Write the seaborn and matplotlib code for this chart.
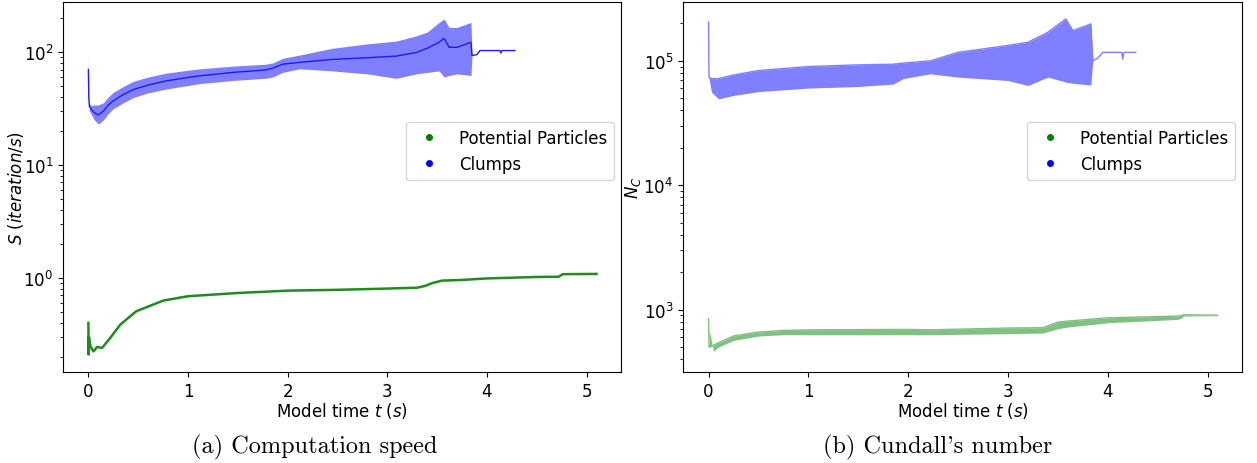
import numpy as np
import pandas as pd
import matplotlib
matplotlib.use("Agg")
import matplotlib.pyplot as plt
from matplotlib.lines import Line2D
import seaborn as sns

# ---------------- data ----------------
# (a) computation speed S, Clumps: time, lower, median, upper
t_clump_s = [0.0, 0.004, 0.01, 0.03, 0.06, 0.1, 0.15, 0.2, 0.25, 0.35, 0.45, 0.6, 0.78,
             1.0, 1.12, 1.45, 1.78, 1.85, 1.95, 2.12, 2.45, 2.8, 3.09, 3.29, 3.4, 3.52,
             3.57, 3.62, 3.7, 3.84, 3.85, 3.9, 3.93, 4.13, 4.14, 4.15, 4.28]
s_clump_lo = [68, 38, 30, 28, 25, 23, 25, 28.5, 31.5, 35.5, 39.5, 43.5, 47,
              50.5, 52.5, 56, 58.5, 60, 66, 71, 68, 64, 58.5, 64, 66, 68,
              60, 62, 64, 62, 93, 95, 103, 103, 98, 103, 103]
s_clump_med = [70, 40, 33, 31, 29, 27.7, 30, 34, 37, 42, 46.5, 51, 55.5,
               59.5, 61.5, 66, 69.3, 72, 78, 81, 86, 89, 92, 99, 108, 122,
               132, 110, 110, 122, 93, 95, 103, 103, 98, 103, 103]
s_clump_hi = [94, 45, 35, 33.5, 34, 34, 35.5, 40, 44, 49.5, 55, 60, 65,
              69, 71, 75, 78, 80, 88, 94, 108, 118, 125, 139, 150, 183,
              196, 165, 165, 183, 93, 95, 103, 103, 98, 103, 103]

# (a) computation speed S, Potential Particles
t_pp_s = [0.0, 0.002, 0.006, 0.012, 0.02, 0.035, 0.053, 0.087, 0.137, 0.22, 0.32, 0.48,
          0.75, 1.0, 1.5, 2.0, 2.5, 3.0, 3.3, 3.38, 3.45, 3.55, 3.75, 4.0, 4.5, 4.72,
          4.76, 5.1]
s_pp = [0.40, 0.21, 0.30, 0.27, 0.25, 0.235, 0.224, 0.245, 0.24, 0.295, 0.386, 0.507,
        0.63, 0.689, 0.736, 0.772, 0.785, 0.805, 0.82, 0.85, 0.90, 0.947, 0.96, 0.99,
        1.02, 1.025, 1.08, 1.085]

# (b) Cundall's number, Clumps: time, lower, upper
t_clump_n = [0.0, 0.005, 0.03, 0.1, 0.25, 0.5, 1.0, 1.5, 1.85, 1.95, 2.22, 2.5, 3.0,
             3.2, 3.4, 3.58, 3.65, 3.83, 3.85, 3.9, 3.95, 4.14, 4.15, 4.16, 4.28]
n_clump_lo = [1.8e5, 7.2e4, 5.6e4, 4.95e4, 5.27e4, 5.66e4, 6.04e4, 6.22e4, 6.5e4,
              7.2e4, 7.87e4, 7.4e4, 6.95e4, 6.34e4, 7.4e4, 6.75e4, 6.6e4, 6.4e4,
              1.0e5, 1.05e5, 1.17e5, 1.17e5, 1.03e5, 1.17e5, 1.17e5]
n_clump_hi = [2.05e5, 7.4e4, 7.2e4, 7.2e4, 7.7e4, 8.36e4, 9.0e4, 9.29e4, 9.4e4,
              9.6e4, 1.0e5, 1.17e5, 1.33e5, 1.41e5, 1.7e5, 2.17e5, 1.75e5, 1.98e5,
              1.0e5, 1.05e5, 1.17e5, 1.17e5, 1.03e5, 1.17e5, 1.17e5]

# (b) Cundall's number, Potential Particles: time, lower, upper
t_pp_n = [0.0, 0.005, 0.05, 0.1, 0.25, 0.5, 0.75, 1.0, 2.0, 2.22, 3.0, 3.35, 3.5, 3.6,
          4.0, 4.7, 4.74, 4.76, 5.1]
n_pp_lo = [430, 700, 463, 502, 567, 615, 630, 630, 630, 630, 642, 650, 704, 726,
           786, 836, 860, 890, 895]
n_pp_hi = [847, 500, 517, 543, 615, 662, 682, 690, 695, 690, 713, 717, 796, 811,
           862, 890, 900, 912, 905]

series_labels = ["Potential Particles", "Clumps"]
captions = ["(a) Computation speed", "(b) Cundall's number"]

# ---------------- figure ----------------
plt.rcParams["font.size"] = 12
fig = plt.figure(figsize=(12.57, 4.64), dpi=100)
ax1 = fig.add_axes([0.0501, 0.1961, 0.4439, 0.7974])
ax2 = fig.add_axes([0.5434, 0.1961, 0.4447, 0.7974])

BAND_BLUE = "#8080ff"
BAND_GREEN = "#80c080"

# (a)
df_cs = pd.DataFrame({"t": t_clump_s, "lo": s_clump_lo, "med": s_clump_med, "hi": s_clump_hi})
ax1.fill_between(df_cs["t"], df_cs["lo"], df_cs["hi"], color=BAND_BLUE, lw=0)
sns.lineplot(data=df_cs, x="t", y="med", ax=ax1, color="#1a1aff", lw=1.0)
df_ps = pd.DataFrame({"t": t_pp_s, "v": s_pp})
sns.lineplot(data=df_ps, x="t", y="v", ax=ax1, color="#1f8c1f", lw=1.8)
ax1.set_yscale("log")
ax1.set_ylim(0.147, 277)
ax1.set_ylabel(r"$S$ ($iteration/s$)", fontsize=12)
ax1.yaxis.set_label_coords(-0.066, 0.5)

# (b)
df_cn = pd.DataFrame({"t": t_clump_n, "lo": n_clump_lo, "hi": n_clump_hi})
ax2.fill_between(df_cn["t"], df_cn["lo"], df_cn["hi"], color=BAND_BLUE, lw=0)
sns.lineplot(data=df_cn, x="t", y="hi", ax=ax2, color=BAND_BLUE, lw=1.0)
df_pn = pd.DataFrame({"t": t_pp_n, "lo": n_pp_lo, "hi": n_pp_hi})
ax2.fill_between(df_pn["t"], df_pn["lo"], df_pn["hi"], color=BAND_GREEN, lw=0)
sns.lineplot(data=df_pn, x="t", y="hi", ax=ax2, color=BAND_GREEN, lw=1.0)
ax2.set_yscale("log")
ax2.set_ylim(316, 2.97e5)
ax2.set_ylabel(r"$N_C$", fontsize=12)
ax2.yaxis.set_label_coords(-0.072, 0.5)

for ax in (ax1, ax2):
    ax.set_xlim(-0.255, 5.345)
    ax.set_xlabel(r"Model time $t$ ($s$)", fontsize=12, labelpad=0)
    ax.tick_params(labelsize=12)
    handles = [Line2D([], [], marker="o", ls="none", color="green", markersize=4),
               Line2D([], [], marker="o", ls="none", color="blue", markersize=4)]
    ax.legend(handles, series_labels, loc="upper right",
              bbox_to_anchor=(0.9875, 0.676), borderaxespad=0, fontsize=12)

fig.text(315 / 1257, 1 - 447 / 464, captions[0], ha="center", va="center",
         family=["cmr10", "DejaVu Serif"], fontsize=17.5)
fig.text(938 / 1257, 1 - 447 / 464, captions[1], ha="center", va="center",
         family=["cmr10", "DejaVu Serif"], fontsize=17.5)

fig.savefig("out.png", dpi=100)
